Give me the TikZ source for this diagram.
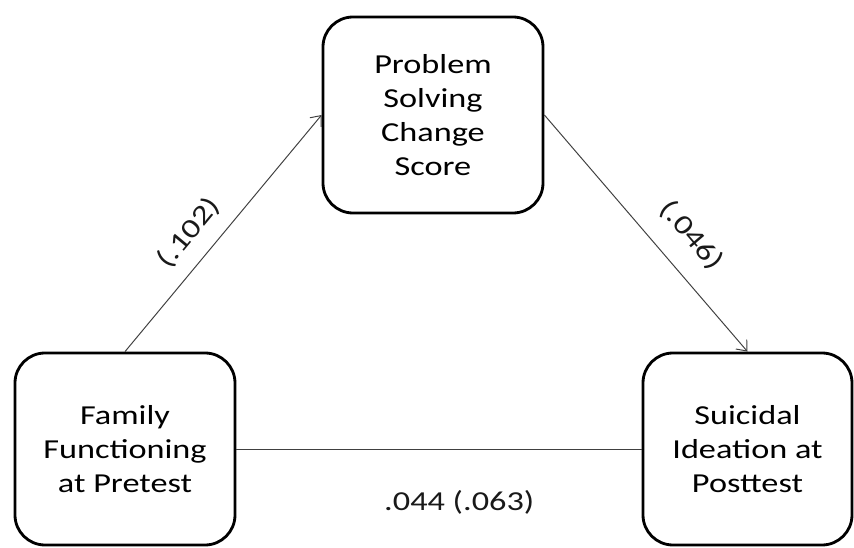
\documentclass[tikz,border=0pt]{standalone}
\usepackage{fontspec}
\setmainfont{Carlito}[FakeStretch=1.25]
\usetikzlibrary{arrows.meta}

\begin{document}
\begin{tikzpicture}[
    varbox/.style={draw, line width=2pt, rounded corners=0.75cm, align=center,
      font=\fontsize{19.5}{24}\selectfont},
    link/.style={black!75, line width=0.7pt},
    coef/.style={text=black!90, font=\fontsize{19.5}{24}\selectfont}
  ]
  \useasboundingbox (0,0) rectangle (21.35,13.675);

  \node[varbox, minimum width=5.5cm, minimum height=4.9cm] (prob) at (10.825,10.8) {Problem\\Solving\\Change\\Score};
  \node[varbox, minimum width=5.5cm, minimum height=4.8cm] (fam) at (3.125,2.45) {Family\\Functioning\\at Pretest};
  \node[varbox, minimum width=5.225cm, minimum height=4.8cm] (sui) at (18.6875,2.45) {Suicidal\\Ideation at\\Posttest};

  \draw[link, -{Straight Barb[length=2.2mm, width=3.6mm]}] (fam.north) -- node[coef, sloped, above=0.25cm, pos=0.43] {(.102)} (prob.west);
  \draw[link, -{Straight Barb[length=2.2mm, width=3.6mm]}] (prob.east) -- node[coef, sloped, above=0.4cm, pos=0.6] {(.046)} (sui.north);
  \draw[link] (fam.east) -- node[coef, below=0.9cm, pos=0.55] {.044 (.063)} (sui.west);

\end{tikzpicture}
\end{document}
